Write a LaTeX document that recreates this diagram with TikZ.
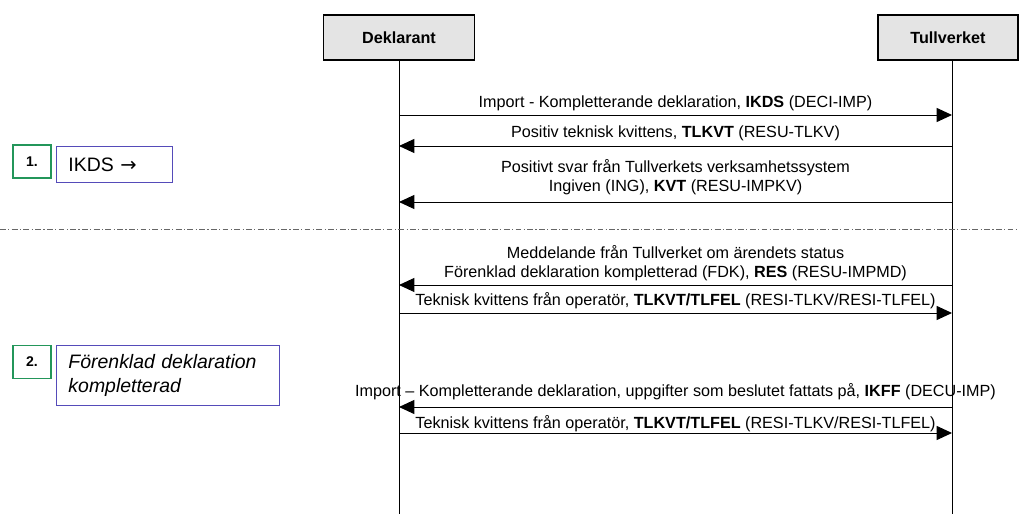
\documentclass[tikz,border=0pt]{standalone}
\usepackage{fontspec}
\setmainfont{Liberation Sans}
\newfontfamily\arrowfont{DejaVu Sans}
\usetikzlibrary{arrows.meta,positioning}
\definecolor{stepgreen}{RGB}{35,150,90}
\definecolor{notepurple}{RGB}{85,75,185}
\definecolor{actorgray}{RGB}{228,228,228}

\begin{document}
\begin{tikzpicture}[x=0.03cm,y=-0.03cm,font=\fontsize{13.8}{16.2}\selectfont,
  >={Triangle[length=4.6mm,width=4.2mm]},
  actor/.style={draw,line width=1.6pt,fill=actorgray,minimum width=4.53cm,minimum height=1.35cm,font=\fontsize{13.8}{16.2}\selectfont\bfseries},
  stepno/.style={draw=stepgreen,line width=1.4pt,minimum width=1.14cm,minimum height=0.99cm,font=\fontsize{12}{14}\selectfont\bfseries},
  note/.style={draw=notepurple,line width=0.8pt,anchor=north west,align=left,inner xsep=3.6mm,font=\fontsize{16.6}{20.4}\selectfont},
  msg/.style={above,align=center,inner sep=3pt},
  arr/.style={->,line width=0.8pt},
  life/.style={line width=0.8pt}]
\useasboundingbox (0,0) rectangle (1019,514);
% ACTORS
\node[actor] (dekl) at (399,37.5) {Deklarant};
\node[actor,minimum width=4.2cm] (tull) at (948,37.5) {Tullverket};
\coordinate (dend) at (399,514);
\coordinate (tend) at (952,514);
\draw[life] (dekl.south) -- (dend);
\draw[life] (tull.south -| tend) -- (tend);
\foreach \n/\y in {1/115,2/146,3/202,4/285,5/313,6/407,7/433}{
  \coordinate (d\n) at (399,\y);
  \coordinate (t\n) at (952,\y);
}
% STEP 1
\node[stepno] (s1) at (32,161.5) {1.};
\node[note,text width=2.76cm,minimum height=1.08cm] (n1) at (56,146) {IKDS {\arrowfont →}};
\draw[arr] (d1) -- node[msg] {Import - Kompletterande deklaration, \textbf{IKDS} (DECI-IMP)} (t1);
\draw[arr] (t2) -- node[msg,yshift=0.5mm] {Positiv teknisk kvittens, \textbf{TLKVT} (RESU-TLKV)} (d2);
\draw[arr] (t3) -- node[msg,yshift=1mm] {Positivt svar från Tullverkets verksamhetssystem\\Ingiven (ING), \textbf{KVT} (RESU-IMPKV)} (d3);
% SEPARATOR
\coordinate (sepl) at (0,229);
\coordinate (sepr) at (1019,229);
\draw[gray!80!black,line width=0.6pt,dash pattern=on 5pt off 2pt on 1pt off 2pt] (sepl) -- (sepr);
% STEP 2
\node[stepno] (s2) at (32,362) {2.};
\node[note,text width=5.97cm,minimum height=1.8cm,font=\fontsize{16.6}{20.4}\selectfont\itshape] (n2) at (56,345) {Förenklad deklaration\\kompletterad};
\draw[arr] (t4) -- node[msg] {Meddelande från Tullverket om ärendets status\\Förenklad deklaration kompletterad (FDK), \textbf{RES} (RESU-IMPMD)} (d4);
\draw[arr] (d5) -- node[msg] {Teknisk kvittens från operatör, \textbf{TLKVT/TLFEL} (RESI-TLKV/RESI-TLFEL)} (t5);
\draw[arr] (t6) -- node[msg,yshift=1mm] {Import – Kompletterande deklaration, uppgifter som beslutet fattats på, \textbf{IKFF} (DECU-IMP)} (d6);
\draw[arr] (d7) -- node[msg,inner sep=1pt] {Teknisk kvittens från operatör, \textbf{TLKVT/TLFEL} (RESI-TLKV/RESI-TLFEL)} (t7);
\end{tikzpicture}
\end{document}
